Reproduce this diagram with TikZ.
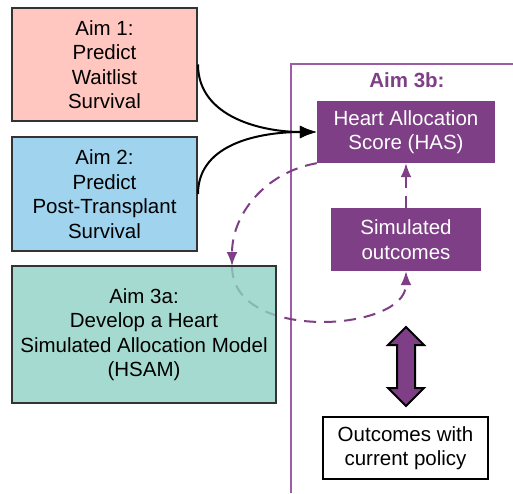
\documentclass[tikz,border=0pt]{standalone}
\usepackage{fontspec}
\setmainfont{Liberation Sans}
\usetikzlibrary{arrows.meta}

\definecolor{aimred}{HTML}{FFC7C0}
\definecolor{aimblue}{HTML}{9FD3EE}
\definecolor{aimteal}{HTML}{8FD1C4}
\definecolor{aimpurple}{HTML}{7E3F86}
\definecolor{framepurple}{HTML}{9B5EA4}
\definecolor{edgegray}{HTML}{333333}

\tikzset{
	aimbox/.style = {draw = edgegray, line width = 2pt, align = center, inner sep = 0pt},
	hasbox/.style = {fill = aimpurple, text = white, align = center, inner sep = 0pt},
	loop/.style = {aimpurple, line width = 2pt, dash pattern = on 12pt off 8pt, -{Latex[length = 14pt, width = 11pt]}},
	feed/.style = {line width = 2pt, -{Latex[length = 17pt, width = 13pt]}}
}

\begin{document}
\begin{tikzpicture}[x = 1pt, y = -1pt, font = \fontsize{20.5}{24.5}\selectfont]

	\useasboundingbox (0, 0) rectangle (513, 493);

	% Aim 3b frame
	
	\draw [framepurple, line width = 2pt] (291, 493) -- (291, 64) -- (513, 64);
	\node [aimpurple, font = \fontsize{20.5}{24.5}\selectfont\bfseries] (aimthreeb) at (407, 80) {Aim 3b:};
	
	% Boxes
	
	\node [hasbox, minimum width = 178pt, minimum height = 62pt] (has) at (406, 132) {Heart Allocation\\Score (HAS)};
	\node [hasbox, minimum width = 150pt, minimum height = 63pt] (simout) at (406, 239.5) {Simulated\\outcomes};
	\node [aimbox, draw = black, line width = 2.5pt, fill = white, minimum width = 165pt, minimum height = 62pt] (current) at (405.5, 448) {Outcomes with\\current policy};
	
	\node [aimbox, fill = aimred, minimum width = 185pt, minimum height = 113pt] (aimone) at (104.5, 64.5) {Aim 1:\\Predict\\Waitlist\\Survival};
	\node [aimbox, fill = aimblue, minimum width = 185pt, minimum height = 114pt] (aimtwo) at (104.5, 194) {Aim 2:\\Predict\\Post-Transplant\\Survival};
	
	% Loop through the model
	
	\coordinate (loopin) at (232, 266);
	\draw [loop] (loopin) to [out = -90, in = 180] (323, 322) to [out = 0, in = -90] (simout.south);
	
	\node [aimbox, fill = aimteal, fill opacity = 0.8, text opacity = 1, minimum width = 264pt, minimum height = 137pt] (aimthreea) at (144, 334.5) {Aim 3a:\\Develop a Heart\\Simulated Allocation Model\\(HSAM)};
	
	\draw [loop] (has.south west) to [out = 190, in = 90] (loopin);
	\draw [loop] (simout.north) -- (has.south);
	
	% Inputs
	
	\draw [feed] (aimone.east) to [out = -90, in = 180] (has.west);
	\draw [feed] (aimtwo.east) to [out = 90, in = 180] (has.west);
	
	% Comparison
	
	\draw [fill = aimpurple, line width = 2pt] (406, 327) -- (424, 345) -- (415, 345) -- (415, 388) -- (424, 388) -- (406, 406) -- (388, 388) -- (397, 388) -- (397, 345) -- (388, 345) -- cycle;

\end{tikzpicture}
\end{document}
